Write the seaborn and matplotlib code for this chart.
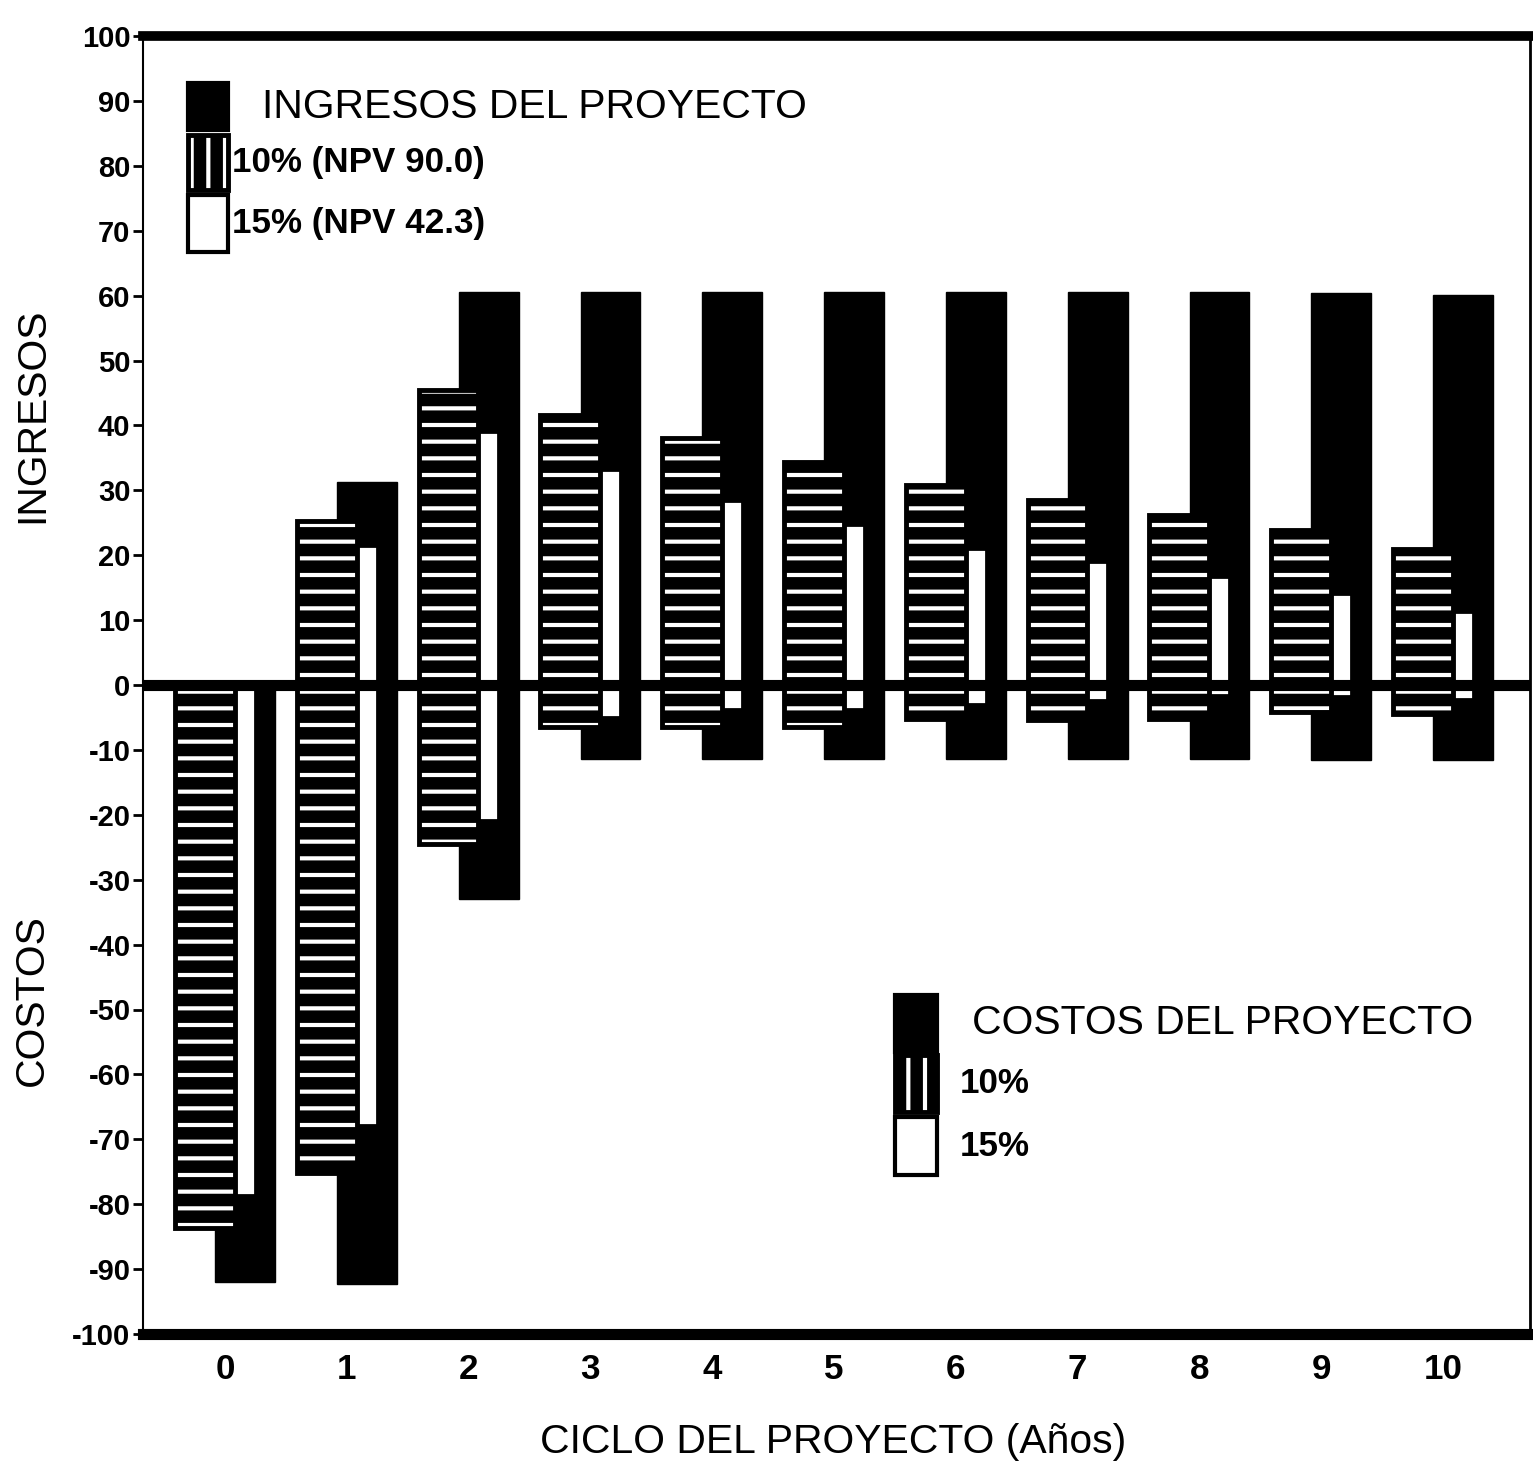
import matplotlib
matplotlib.use("Agg")
import matplotlib.pyplot as plt
from matplotlib import font_manager
from matplotlib.patches import Rectangle
import numpy as np
import pandas as pd
import seaborn as sns

# ---------------------------------------------------------------------------
# Datos del flujo de caja del proyecto (millones), años 0..10
# ---------------------------------------------------------------------------
years = list(range(11))
year_labels = [str(y) for y in years]

ingresos_nominal = [0.0, 31.3, 60.6, 60.6, 60.6, 60.6, 60.6, 60.5, 60.5, 60.4, 60.1]
ingresos_10 = [0.0, 25.3, 45.5, 41.6, 38.1, 34.4, 30.8, 28.5, 26.2, 23.9, 21.0]
ingresos_15 = [0.0, 21.4, 39.0, 33.2, 28.4, 24.7, 21.0, 19.0, 16.7, 14.0, 11.3]

costos_nominal = [92.0, 92.3, 33.0, 11.4, 11.4, 11.4, 11.4, 11.4, 11.4, 11.6, 11.6]
costos_10 = [83.7, 75.2, 24.5, 6.5, 6.5, 6.5, 5.2, 5.4, 5.2, 4.2, 4.5]
costos_15 = [78.6, 67.8, 20.8, 4.9, 3.7, 3.7, 2.9, 2.3, 1.5, 1.7, 2.2]

yticks = list(range(-100, 101, 10))
ytick_labels = [str(v) for v in yticks]

leyenda_ingresos = ["INGRESOS DEL PROYECTO", "10% (NPV 90.0)", "15% (NPV 42.3)"]
leyenda_costos = ["COSTOS DEL PROYECTO", "10%", "15%"]

# ---------------------------------------------------------------------------
# Estilo
# ---------------------------------------------------------------------------
sns.set_theme(style="white")
installed = {f.name for f in font_manager.fontManager.ttflist}
if "Liberation Sans Narrow" in installed:
    FONT, K = "Liberation Sans Narrow", 1.0
else:
    FONT, K = "Liberation Sans", 0.84
plt.rcParams["font.family"] = [FONT, "DejaVu Sans"]
plt.rcParams["hatch.linewidth"] = 3.0
for key in ["text.color", "axes.labelcolor", "xtick.color", "ytick.color",
            "axes.edgecolor"]:
    plt.rcParams[key] = "black"

W, H = 1533, 1466
fig = plt.figure(figsize=(W / 100, H / 100), dpi=100)
ax = fig.add_axes([143 / W, 1 - 1334 / H, (1530 - 143) / W, (1334 - 36) / H])

# desplazamiento de cada serie dentro del grupo de un año
OFF_10, OFF_15, OFF_NOM = -0.165, 0.0, 0.165
BAR_W = 0.49


def barras(values, offset, sign, **kws):
    df = pd.DataFrame({"pos": np.array(years) + offset,
                       "valor": sign * np.array(values)})
    sns.barplot(data=df, x="pos", y="valor", native_scale=True, width=BAR_W,
                saturation=1, errorbar=None, ax=ax, **kws)


for vals, sign in [(ingresos_nominal, 1), (costos_nominal, -1)]:
    barras(vals, OFF_NOM, sign, color="black", edgecolor="black",
           linewidth=1, zorder=2)
for vals, sign in [(ingresos_15, 1), (costos_15, -1)]:
    barras(vals, OFF_15, sign, color="white", edgecolor="black",
           linewidth=2, zorder=3)
for vals, sign in [(ingresos_10, 1), (costos_10, -1)]:
    # relleno negro con rayas blancas horizontales
    barras(vals, OFF_10, sign, color="black", edgecolor="white",
           hatch="-", linewidth=0, zorder=4)
    # contorno negro de la barra rayada
    barras(vals, OFF_10, sign, color="black", facecolor="none",
           edgecolor="black", linewidth=3.5, zorder=4.5)

ax.axhline(0, color="black", lw=8, zorder=6)

ax.set_xlim(-0.673, 10.714)
ax.set_ylim(-100, 100)
ax.set_xticks(years)
ax.set_xticklabels(year_labels, fontsize=30 * K, fontweight="bold")
ax.set_yticks(yticks)
ax.set_yticklabels(ytick_labels, fontsize=25 * K, fontweight="bold")
ax.tick_params(axis="x", length=0, pad=14)
ax.tick_params(axis="y", length=7, width=2, direction="out", pad=2,
               left=True)
ax.set_xlabel("")
ax.set_ylabel("")

for side, lw in [("top", 7), ("bottom", 8), ("right", 2), ("left", 1.5)]:
    ax.spines[side].set_visible(True)
    ax.spines[side].set_linewidth(lw)
    ax.spines[side].set_color("black")

# ---------------------------------------------------------------------------
# Rótulos de ejes
# ---------------------------------------------------------------------------
fig.text(32 / W, 1 - 415 / H, "INGRESOS", rotation=90, ha="center",
         va="center", fontsize=35 * K)
fig.text(32 / W, 1 - 1000 / H, "COSTOS", rotation=90, ha="center",
         va="center", fontsize=35 * K)
fig.text(833 / W, 1 - 1442 / H, "CICLO DEL PROYECTO (Años)", ha="center",
         va="center", fontsize=35 * K)


# ---------------------------------------------------------------------------
# Leyendas dibujadas a mano (posiciones en píxeles de la figura)
# ---------------------------------------------------------------------------
def caja(x0, y0, x1, y1, face, hatch=None, hatch_color="black"):
    r = Rectangle((x0 / W, 1 - y1 / H), (x1 - x0) / W, (y1 - y0) / H,
                  transform=fig.transFigure, facecolor=face,
                  edgecolor=hatch_color if hatch else "black",
                  linewidth=0 if hatch else 3, hatch=hatch)
    fig.add_artist(r)
    if hatch:
        fig.add_artist(Rectangle((x0 / W, 1 - y1 / H), (x1 - x0) / W,
                                 (y1 - y0) / H, transform=fig.transFigure,
                                 facecolor="none", edgecolor="black",
                                 linewidth=3.5))


def leyenda(x0, x1, rows, textos, x_title, x_items):
    (a, b), (c, d), (e, f) = rows
    caja(x0, a, x1, b, "black")
    caja(x0, c, x1, d, "black", hatch="|", hatch_color="white")
    caja(x0, e, x1, f, "white")
    fig.text(x_title / W, 1 - (a + b) / 2 / H, textos[0], ha="left",
             va="center", fontsize=35 * K)
    fig.text(x_items / W, 1 - (c + d) / 2 / H, textos[1], ha="left",
             va="center", fontsize=30 * K, fontweight="bold")
    fig.text(x_items / W, 1 - (e + f) / 2 / H, textos[2], ha="left",
             va="center", fontsize=30 * K, fontweight="bold")


leyenda(188, 228, [(83, 130), (135, 190), (195, 252)], leyenda_ingresos,
        262, 232)
leyenda(895, 937, [(995, 1052), (1055, 1112), (1117, 1175)], leyenda_costos,
        972, 960)

fig.savefig("out.png", dpi=100, facecolor="white")
